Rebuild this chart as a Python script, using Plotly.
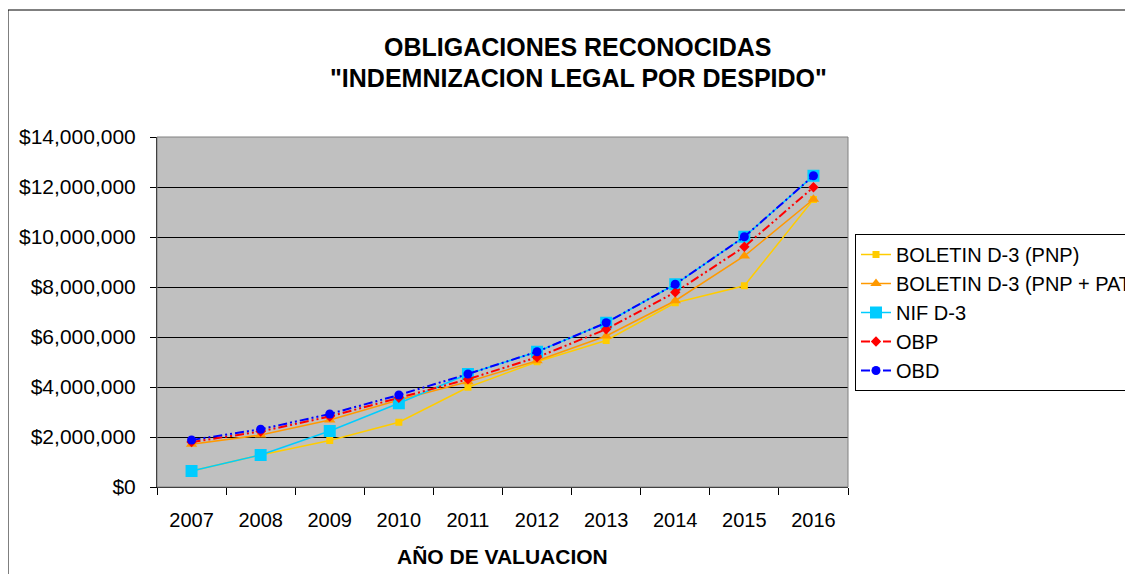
import plotly.graph_objects as go

YEARS = ["2007", "2008", "2009", "2010", "2011", "2012", "2013", "2014", "2015", "2016"]

BOLETIN_PNP = [640000, 1280000, 1860000, 2590000, 3990000, 5010000, 5860000, 7370000, 8050000, 11500000]
BOLETIN_PNP_PAT = [1710000, 2080000, 2680000, 3480000, 4210000, 5050000, 6040000, 7450000, 9240000, 11510000]
NIF_D3 = [640000, 1280000, 2240000, 3350000, 4520000, 5410000, 6570000, 8110000, 10010000, 12450000]
OBP = [1800000, 2220000, 2820000, 3570000, 4310000, 5190000, 6310000, 7790000, 9610000, 11990000]
OBD = [1880000, 2310000, 2920000, 3680000, 4520000, 5410000, 6570000, 8110000, 10010000, 12450000]

TITLE_LINES = ["OBLIGACIONES RECONOCIDAS", "\"INDEMNIZACION LEGAL POR DESPIDO\""]

FONT = "Liberation Sans, Arial, sans-serif"
DASHDOTDOT = "9px,3px,2px,3px,2px,3px"

# page body has an 8px margin, so the figure starts at (8, 8) on screen
OFF = 8
W, H = 1133 - OFF, 574 - OFF
# plot area in screen pixels
L, R, T, B = 157, 848, 137, 487
PW, PH = R - L, B - T


def px_x(x):
    return (x - L) / PW


def px_y(y):
    return (B - y) / PH


series = [
    ("BOLETIN D-3 (PNP)", BOLETIN_PNP, "#FFCC00", "solid", "square", 7, 1.5),
    ("BOLETIN D-3 (PNP + PAT)", BOLETIN_PNP_PAT, "#FF9900", "solid", "triangle-up", 10, 1.5),
    ("NIF D-3", NIF_D3, "#00CCFF", "solid", "square", 12, 1.5),
    ("OBP", OBP, "#FF0000", DASHDOTDOT, "diamond", 8, 2),
    ("OBD", OBD, "#0000FF", DASHDOTDOT, "circle", 9, 2),
]

fig = go.Figure()
for i, (name, vals, color, dash, symbol, msize, lw) in enumerate(series):
    fig.add_trace(go.Scatter(
        x=YEARS,
        y=vals,
        name=name,
        mode="lines+markers",
        line=dict(color=color, width=lw, dash=dash),
        marker=dict(symbol=symbol, size=msize, color=color),
        legendgroup=f"g{i}",
    ))

# title: two centred bold lines, placed one by one for tighter spacing
title_notes = [
    dict(
        text=f"<b>{line}</b>",
        xref="paper", yref="paper",
        x=px_x(578), y=px_y(y),
        xanchor="center", yanchor="middle",
        showarrow=False,
        font=dict(size=25, family=FONT),
    )
    for line, y in zip(TITLE_LINES, [47, 78])
]

fig.update_layout(
    width=W,
    height=H,
    margin=dict(l=L - OFF, r=W - (R - OFF), t=T - OFF, b=H - (B - OFF), autoexpand=False),
    paper_bgcolor="white",
    plot_bgcolor="#C0C0C0",
    font=dict(family=FONT, color="black", size=20),
    xaxis=dict(
        type="category",
        range=[-0.5, len(YEARS) - 0.5],
        tickson="boundaries",
        ticks="outside",
        ticklen=7,
        tickcolor="black",
        showline=True,
        linecolor="black",
        linewidth=1,
        showgrid=False,
        tickfont=dict(size=20),
        ticklabelstandoff=15,
    ),
    yaxis=dict(
        range=[0, 14000000],
        dtick=2000000,
        tickprefix="$",
        tickformat=",.0f",
        ticks="outside",
        ticklen=6,
        tickcolor="black",
        showline=True,
        linecolor="black",
        linewidth=1,
        showgrid=True,
        gridcolor="black",
        gridwidth=1,
        zeroline=False,
        tickfont=dict(size=21),
        ticklabelstandoff=10,
    ),
    legend=dict(
        x=px_x(855),
        y=px_y(234),
        xanchor="left",
        yanchor="top",
        bordercolor="black",
        borderwidth=1,
        bgcolor="white",
        font=dict(size=20),
        traceorder="grouped",
        tracegroupgap=0,
    ),
    annotations=title_notes + [
        dict(
            text="<b>AÑO DE VALUACION</b>",
            xref="paper", yref="paper",
            x=0.5, y=px_y(556),
            xanchor="center", yanchor="middle",
            showarrow=False,
            font=dict(size=21, family=FONT),
        )
    ],
    shapes=[
        # outer chart border (right/bottom edges fall outside the window)
        dict(type="rect", xref="paper", yref="paper",
             x0=px_x(8), x1=px_x(1145), y0=px_y(590), y1=px_y(10),
             line=dict(color="black", width=1), layer="below"),
        # plot area border
        dict(type="rect", xref="paper", yref="paper",
             x0=0, x1=1, y0=0, y1=1,
             line=dict(color="#808080", width=1), layer="above"),
    ],
    showlegend=True,
)

fig.write_html("out.html")
